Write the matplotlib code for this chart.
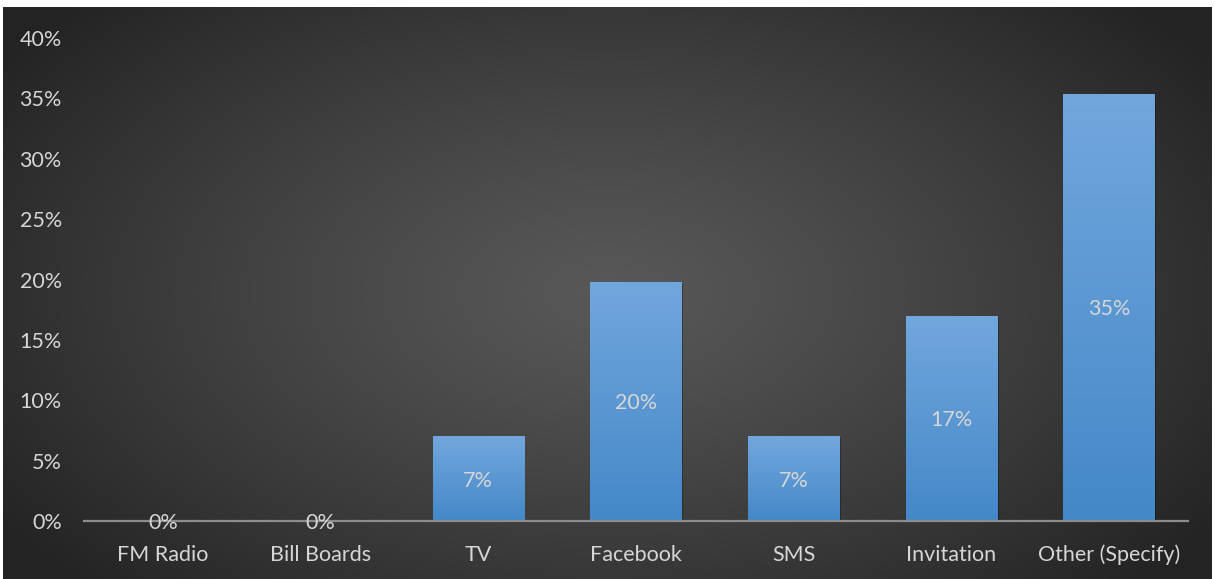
import numpy as np
import matplotlib
matplotlib.use("Agg")
import matplotlib.pyplot as plt
from matplotlib.ticker import PercentFormatter
import matplotlib.patheffects as pe

plt.rcParams['font.family'] = ['Lato', 'DejaVu Sans']

# survey answers: how did you hear about the event
categories = ['FM Radio', 'Bill Boards', 'TV', 'Facebook', 'SMS', 'Invitation', 'Other (Specify)']
shares = [0.0, 0.0, 0.070, 0.198, 0.070, 0.170, 0.354]
y_ticks = [0.0, 0.05, 0.10, 0.15, 0.20, 0.25, 0.30, 0.35, 0.40]

text_col = '#d6d6d6'
fs = 15.5
W, H = 1215, 579
fig = plt.figure(figsize=(W / 100, H / 100), dpi=100)
fig.patch.set_facecolor('white')

# dark radial backdrop
bg = fig.add_axes([3 / W, 0, (W - 6) / W, (H - 7) / H])
bg.set_axis_off()
gx, gy = np.meshgrid(np.linspace(0, 1, 400), np.linspace(0, 1, 200))
r = np.sqrt(((gx - 0.5) / 0.62) ** 2 + ((gy - 0.5) / 0.75) ** 2)
shade = np.clip(0.345 - 0.21 * r ** 1.2, 0.14, 0.35)
bg.imshow(np.dstack([shade] * 3), aspect='auto', extent=[0, 1, 0, 1], interpolation='bicubic')

ax = fig.add_axes([84 / W, (H - 521) / H, 1104 / W, 483 / H])
ax.patch.set_alpha(0)
x = np.arange(len(categories))
width = 0.58

bars = ax.bar(x, shares, width=width, color='#5b9bd5', zorder=2,
              path_effects=[pe.SimplePatchShadow(offset=(1.0, -1.0), shadow_rgbFace='black', alpha=0.3),
                            pe.Normal()])

# vertical blue gradient inside every bar
grad = np.linspace(0, 1, 256).reshape(-1, 1)
top = np.array([0x72, 0xa7, 0xdd]) / 255
bot = np.array([0x44, 0x88, 0xc8]) / 255
img = (top[None, None, :] * (1 - grad[..., None]) + bot[None, None, :] * grad[..., None])
for b in bars:
    if b.get_height() <= 0:
        continue
    im = ax.imshow(img, aspect='auto', zorder=3, interpolation='bicubic',
                   extent=[b.get_x(), b.get_x() + b.get_width(), 0, b.get_height()])
    im.set_clip_path(b)

for xi, v in zip(x, shares):
    ax.text(xi, v / 2 if v > 0 else -0.0002, f'{v:.0%}', ha='center', va='center_baseline',
            color=text_col, fontsize=fs, zorder=5)

ax.set_xlim(-0.5, len(categories) - 0.5)
ax.set_ylim(0, 0.40)
ax.set_yticks(y_ticks)
ax.yaxis.set_major_formatter(PercentFormatter(1.0, decimals=0))
ax.set_xticks(x)
ax.set_xticklabels(categories)
ax.tick_params(axis='y', length=0, pad=16, labelsize=fs, labelcolor=text_col)
ax.tick_params(axis='x', length=0, pad=17, labelsize=fs, labelcolor=text_col)
for s in ['top', 'right', 'left']:
    ax.spines[s].set_visible(False)
ax.spines['bottom'].set_color('#8c8c8c')
ax.spines['bottom'].set_linewidth(1.6)
ax.spines['bottom'].set_zorder(4)

fig.savefig('out.png', dpi=100)
